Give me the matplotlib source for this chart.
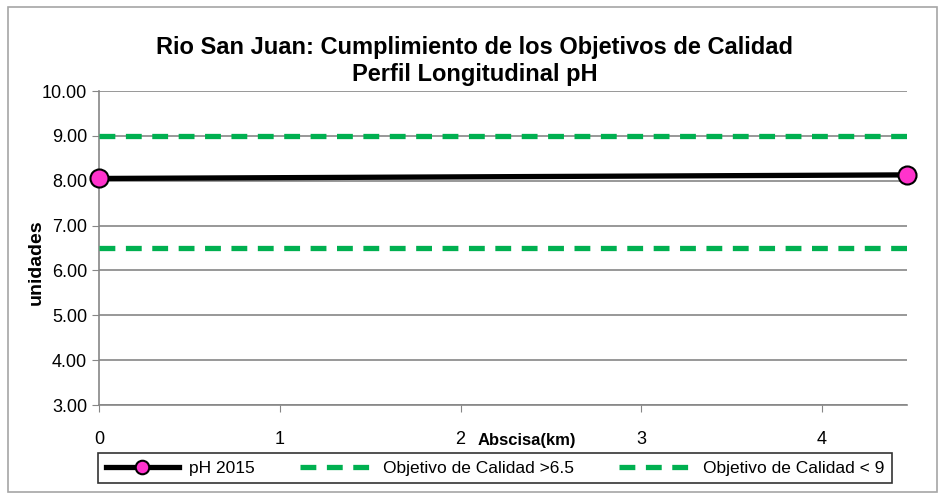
import matplotlib.pyplot as plt
from matplotlib.patches import Rectangle

plt.rcParams['font.family'] = ['Liberation Sans Narrow', 'Liberation Sans', 'DejaVu Sans']

# datos
abscisa = [0, 4.47]
ph_2015 = [8.05, 8.13]
obj_min = [6.5, 6.5]
obj_max = [9.0, 9.0]
x_ticks = [0, 1, 2, 3, 4]
y_ticks = [3, 4, 5, 6, 7, 8, 9, 10]

fig = plt.figure(figsize=(9.41, 4.99), dpi=100)
ax = fig.add_axes([99 / 941, 1 - 405 / 499, (907 - 99) / 941, (405 - 91) / 499])

# borde exterior
fig.patches.append(Rectangle((8 / 941, 7 / 499), 929 / 941, 485 / 499, transform=fig.transFigure,
                             fill=False, edgecolor='#a6a6a6', linewidth=1.2))

ax.plot(abscisa, ph_2015, color='black', linewidth=3.8, marker='o', markersize=13,
        markerfacecolor='#ff33cc', markeredgecolor='black', markeredgewidth=1.5,
        label='pH 2015', zorder=5, clip_on=False)
ax.plot(abscisa, obj_min, color='#00b050', linewidth=3.8, linestyle=(0, (3, 2)),
        label='Objetivo de Calidad >6.5', zorder=4)
ax.plot(abscisa, obj_max, color='#00b050', linewidth=3.8, linestyle=(0, (3, 2)),
        label='Objetivo de Calidad < 9', zorder=4)

ax.set_xlim(0, 4.47)
ax.set_ylim(3, 10)
ax.set_xticks(x_ticks)
ax.set_yticks(y_ticks)
ax.set_yticklabels([f'{v:.2f}' for v in y_ticks])
ax.tick_params(axis='both', labelsize=13, color='#868686', length=5)
ax.tick_params(axis='x', pad=14)
ax.grid(axis='y', color='#868686', linewidth=1.2)
ax.set_axisbelow(True)
for s in ['top', 'right']:
    ax.spines[s].set_visible(False)
for s in ['left', 'bottom']:
    ax.spines[s].set_color('#868686')
    ax.spines[s].set_linewidth(1.2)

fig.text(475 / 941, 1 - 61 / 499, 'Rio San Juan: Cumplimiento de los Objetivos de Calidad\nPerfil Longitudinal pH',
         ha='center', va='center', fontsize=17, fontweight='bold', linespacing=1.2)
fig.text(36 / 941, 1 - 262 / 499, 'unidades', rotation=90, ha='center', va='center',
         fontsize=14, fontweight='bold')
fig.text(527 / 941, 1 - 441 / 499, 'Abscisa(km)', ha='center', va='center',
         fontsize=12, fontweight='bold')

leg = fig.legend(loc='center', bbox_to_anchor=(495 / 941, 1 - 468 / 499), ncol=3,
                 fontsize=12.5, frameon=True, fancybox=False, edgecolor='black',
                 handlelength=4.2, columnspacing=2.6, borderpad=0.45, markerscale=0.75,
                 handletextpad=0.6)
leg.get_frame().set_linewidth(1.2)

fig.savefig('out.png', dpi=100)
